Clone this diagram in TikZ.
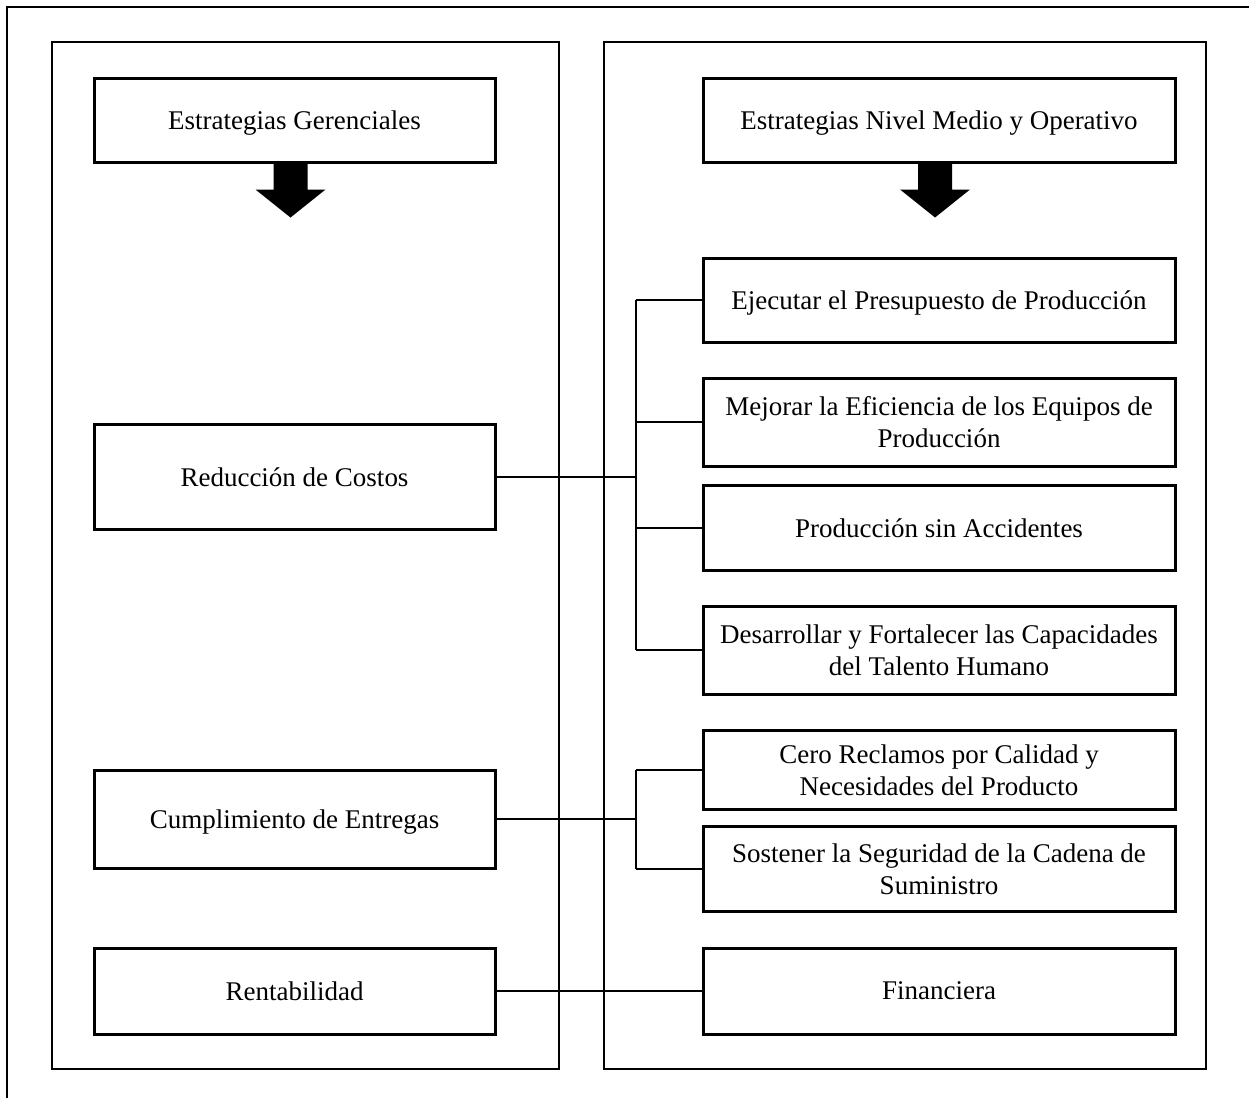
\documentclass[tikz,border=0pt]{standalone}
\usepackage{fontspec}
\setmainfont{Liberation Serif}
\usepackage{tikz}
\usetikzlibrary{positioning}

\begin{document}
\begin{tikzpicture}[
  x=0.5pt, y=-0.5pt,
  font=\fontsize{13.5}{16}\selectfont,
  box/.style={draw, line width=1.5pt, align=center, inner sep=0pt, text depth=0pt},
  lbox/.style={box, minimum width=200.5pt},
  rbox/.style={box, minimum width=236pt},
  column/.style={draw, line width=1pt},
  link/.style={line width=1pt},
  blockarrow/.style={fill=black}
]
\useasboundingbox (0,0) rectangle (1249,1098);
% frame and columns
\draw[line width=0.75pt] (7,1120) -- (7,7) -- (1270,7);
\draw[column] (52,42) rectangle (559,1069);
\draw[column] (604,42) rectangle (1206,1069);

% headers
\node[lbox, minimum height=42pt] (gerencial) at (294.5,120) {Estrategias Gerenciales};
\node[rbox, minimum height=42pt] (operativo) at (939,120) {Estrategias Nivel Medio y Operativo};
\foreach \h in {gerencial,operativo}
  \fill[blockarrow] ([xshift=-10.5pt]\h.south) -- ++(0,26) -- ++(-18,0) -- ++(35,28) -- ++(35,-28) -- ++(-18,0) -- ++(0,-26) -- cycle;

% left column
\node[lbox, minimum height=52.5pt] (costos) at (294.5,477) {Reducción de Costos};
\node[lbox, minimum height=49pt] (entregas) at (294.5,819) {Cumplimiento de Entregas};
\node[lbox, minimum height=43pt] (rentab) at (294.5,991) {Rentabilidad};

% right column
\node[rbox, minimum height=42pt] (ejecutar) at (939,300) {Ejecutar el Presupuesto de Producción};
\node[rbox, minimum height=44pt] (eficiencia) at (939,422) {Mejorar la Eficiencia de los Equipos de\\Producción};
\node[rbox, minimum height=42.5pt] (accidentes) at (939,528) {Producción sin Accidentes};
\node[rbox, minimum height=44pt] (talento) at (939,650) {Desarrollar y Fortalecer las Capacidades\\del Talento Humano};
\node[rbox, minimum height=39.5pt] (reclamos) at (939,770) {Cero Reclamos por Calidad y\\Necesidades del Producto};
\node[rbox, minimum height=42.5pt] (seguridad) at (939,869) {Sostener la Seguridad de la Cadena de\\Suministro};
\node[rbox, minimum height=43pt] (financiera) at (939,991) {Financiera};

% connectors
\coordinate (busA) at (636,477);
\coordinate (busB) at (636,819);
\draw[link] (costos) -- (busA);
\foreach \n in {ejecutar,eficiencia,accidentes,talento}
  \draw[link] (\n.west) -- (\n.west -| busA);
\draw[link] (ejecutar.west -| busA) -- (talento.west -| busA);
\draw[link] (entregas) -- (busB);
\foreach \n in {reclamos,seguridad}
  \draw[link] (\n.west) -- (\n.west -| busB);
\draw[link] (reclamos.west -| busB) -- (seguridad.west -| busB);
\draw[link] (rentab) -- (financiera);
\end{tikzpicture}
\end{document}
